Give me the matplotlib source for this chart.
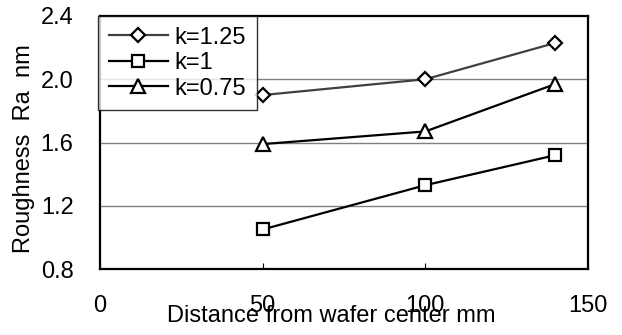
import matplotlib
matplotlib.use("Agg")
import matplotlib.pyplot as plt

plt.rcParams["font.family"] = ["Liberation Sans", "DejaVu Sans"]

# distance from wafer center, mm
distance = [50, 100, 140]
ra_k125 = [1.90, 2.00, 2.23]
ra_k100 = [1.05, 1.33, 1.52]
ra_k075 = [1.59, 1.67, 1.97]

x_ticks = [0, 50, 100, 150]
y_ticks = [0.8, 1.2, 1.6, 2.0, 2.4]

FS = 17

fig = plt.figure(figsize=(6.22, 3.35), dpi=100)
ax = fig.add_axes([100 / 622, 1 - 269 / 335, 488 / 622, 253 / 335])

ax.plot(distance, ra_k125, color="#404040", lw=1.6, marker="D", ms=7.5,
        mfc="white", mec="black", mew=1.6, label="k=1.25")
ax.plot(distance, ra_k100, color="black", lw=1.6, marker="s", ms=9,
        mfc="white", mec="black", mew=1.6, label="k=1")
ax.plot(distance, ra_k075, color="black", lw=1.6, marker="^", ms=10,
        mfc="white", mec="black", mew=1.6, label="k=0.75")

ax.set_xlim(0, 150)
ax.set_ylim(0.8, 2.4)
ax.set_xticks(x_ticks)
ax.set_yticks(y_ticks)
ax.set_yticklabels([f"{v:.1f}" for v in y_ticks])
for v in y_ticks[1:-1]:
    ax.axhline(v, color="#808080", lw=1.0, zorder=0)

ax.tick_params(axis="x", direction="in", length=4, pad=19, labelsize=FS)
ax.tick_params(axis="y", length=0, pad=19, labelsize=FS)
for s in ax.spines.values():
    s.set_linewidth(1.6)
    s.set_color("black")

ax.set_xlabel("Distance from wafer center mm", fontsize=FS)
ax.xaxis.set_label_coords(0.474, -0.142)
ax.set_ylabel("Roughness  Ra  nm", fontsize=FS)
ax.yaxis.set_label_coords(-0.133, 0.474)

leg = ax.legend(loc="upper left", bbox_to_anchor=(-0.004, 1.0), fontsize=FS,
                frameon=True, fancybox=False, edgecolor="black",
                handlelength=2.5, borderpad=0.45, labelspacing=0.15,
                handletextpad=0.3, borderaxespad=0)
leg.get_frame().set_linewidth(1.0)

fig.savefig("out.png", dpi=100)
